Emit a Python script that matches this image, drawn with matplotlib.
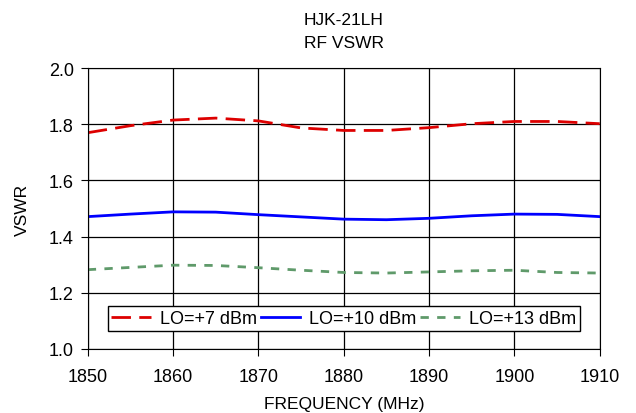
import matplotlib
matplotlib.use('Agg')
import matplotlib.pyplot as plt

plt.rcParams['font.family'] = ['Liberation Sans', 'DejaVu Sans']

# frequency points (MHz)
freq = [1850, 1855, 1860, 1865, 1870, 1875, 1880, 1885, 1890, 1895, 1900, 1905, 1910]
vswr_lo7 = [1.770, 1.795, 1.815, 1.822, 1.812, 1.787, 1.778, 1.778, 1.788, 1.802, 1.810, 1.810, 1.802]
vswr_lo10 = [1.471, 1.480, 1.488, 1.487, 1.478, 1.470, 1.462, 1.460, 1.465, 1.474, 1.480, 1.479, 1.471]
vswr_lo13 = [1.282, 1.290, 1.298, 1.297, 1.289, 1.280, 1.272, 1.270, 1.274, 1.278, 1.280, 1.272, 1.270]

fig = plt.figure(figsize=(6.36, 4.14), dpi=100)
ax = fig.add_axes([0.138, 0.155, 0.805, 0.678])

ax.plot(freq, vswr_lo7, color='#dd0000', lw=2, dashes=(7, 3), label='LO=+7 dBm')
ax.plot(freq, vswr_lo10, color='#0000ff', lw=2, label='LO=+10 dBm')
ax.plot(freq, vswr_lo13, color='#5f9a6a', lw=2, dashes=(3, 3), label='LO=+13 dBm')

ax.set_xlim(1850, 1910)
ax.set_ylim(1.0, 2.0)
ax.set_xticks(range(1850, 1911, 10))
ax.set_yticks([1.0, 1.2, 1.4, 1.6, 1.8, 2.0])
ax.set_yticklabels(['1.0', '1.2', '1.4', '1.6', '1.8', '2.0'])
ax.grid(True, color='black', lw=0.9)
ax.tick_params(direction='out', length=5, labelsize=13, color='black')
ax.tick_params(axis='x', pad=9)
ax.tick_params(axis='y', pad=5)
for s in ax.spines.values():
    s.set_color('black')

ax.set_xlabel('FREQUENCY (MHz)', fontsize=12.5, labelpad=8)
ax.set_ylabel('VSWR', fontsize=12.5, labelpad=14)
ax.set_title('HJK-21LH\nRF VSWR', fontsize=12.5, pad=15, linespacing=1.7)

leg = ax.legend(loc='lower center', bbox_to_anchor=(0.5, 0.065), ncol=3, fontsize=13,
                frameon=True, fancybox=False, edgecolor='black', framealpha=1,
                handlelength=2.2, columnspacing=0.2, handletextpad=0.5, borderpad=0.2,
                borderaxespad=0)
leg.get_frame().set_linewidth(1)

fig.savefig('out.png', dpi=100)
